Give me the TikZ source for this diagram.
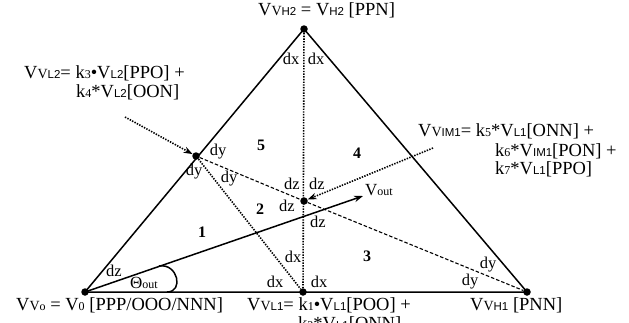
\documentclass[tikz,border=0pt]{standalone}
\usepackage{fontspec}
\setmainfont{Liberation Serif}
\setsansfont{Liberation Sans}
\usetikzlibrary{arrows.meta}
\newcommand\VV{V{\fontsize{14}{14}\selectfont V}}
\newcommand\sbs[1]{{\fontsize{11.5}{12}\selectfont\sffamily #1}}
\newcommand\sbn[1]{{\fontsize{12}{12}\selectfont #1}}
\begin{document}
\begin{tikzpicture}[x=1pt,y=-1pt,font=\fontsize{16.5}{18}\selectfont,
  solidline/.style={line width=1.5pt},
  dotline/.style={line width=1.6pt,dash pattern=on 1.4pt off 1.3pt},
  dashline/.style={line width=1.1pt,dash pattern=on 3.5pt off 2pt},
  vtx/.style={circle,fill,inner sep=0pt,minimum size=7.5pt},
  lbl/.style={inner sep=0pt},
  txt/.style={anchor=base west,inner sep=0pt,font=\fontsize{18.5}{20}\selectfont},
  num/.style={font=\fontsize{16}{17}\selectfont\bfseries,inner sep=0pt},
  tip/.style={-{Stealth[length=9pt,width=6.5pt]}}]
\useasboundingbox (0,0) rectangle (629,322);
\node[vtx] (A) at (85,292) {};
\node[vtx] (B) at (303,292) {};
\node[vtx] (C) at (527,292) {};
\node[vtx] (D) at (304,29) {};
\node[vtx] (E) at (196,156) {};
\node[vtx] (F) at (304,201) {};
\coordinate (G) at (363,196);
\coordinate (H) at (125,117);
\coordinate (I) at (433,148);
\coordinate (P) at (167,292);
\coordinate (Q) at (159,266);

\draw[solidline] (A.center) -- (C.center) -- (D.center) -- cycle;
\draw[dotline] (D) -- (B);
\draw[dotline] (E) -- (B);
\draw[dashline] (E) -- (F) -- (C);
\draw[dotline,tip] (H) -- (E);
\draw[dotline,tip] (I) -- (F);
\draw[solidline,tip] (A.center) -- (G);
\draw[solidline] (P) .. controls (184,292) and (178,263) .. (Q);

% main labels
\node[txt] (tH2) at (258,15) {\VV\sbs{H2} = V\sbs{H2} [PPN]};
\node[txt] (tL2a) at (24,78) {\VV\sbs{L2}= k\sbn{3}•V\sbs{L2}[PPO] +};
\node[txt] (tL2b) at (76,97) {k\sbn{4}*V\sbs{L2}[OON]};
\node[txt] (tIMa) at (418,136) {\VV\sbs{IM1}= k\sbn{5}*V\sbs{L1}[ONN] +};
\node[txt] (tIMb) at (495,156) {k\sbn{6}*V\sbs{IM1}[PON] +};
\node[txt] (tIMc) at (495,174) {k\sbn{7}*V\sbs{L1}[PPO]};
\node[txt] (tO) at (16,310) {\VV\sbn{o} = V\sbn{0} [PPP/OOO/NNN]};
\node[txt] (tL1a) at (247,310) {\VV\sbs{L1}= k\sbn{1}•V\sbs{L1}[POO] +};
\node[txt] (tL1b) at (298,329) {k\sbn{2}*V\sbs{L1}[ONN]};
\node[txt] (tH1) at (470,310) {\VV\sbs{H1} [PNN]};
\node[txt,font=\fontsize{17}{18}\selectfont] (tVout) at (365,195) {V\sbn{out}};
\node[txt,font=\fontsize{17}{18}\selectfont] (tTh) at (130,288) {Θ\sbn{out}};

% region numbers
\node[num] (n5) at (261,145) {5};
\node[num] (n4) at (357,153) {4};
\node[num] (n2) at (260,209) {2};
\node[num] (n1) at (202,232) {1};
\node[num] (n3) at (367,256) {3};

% increments
\node[lbl] (dx1) at (291,59) {dx};
\node[lbl] (dx2) at (316,59) {dx};
\node[lbl] (dy1) at (218,152) {dy};
\node[lbl] (dy2) at (194,172) {dy};
\node[lbl] (dy3) at (229,179) {dy};
\node[lbl] (dz1) at (292,184) {dz};
\node[lbl] (dz2) at (317,184) {dz};
\node[lbl] (dz3) at (287,206) {dz};
\node[lbl] (dz4) at (318,222) {dz};
\node[lbl] (dx3) at (293,257) {dx};
\node[lbl] (dx4) at (275,282) {dx};
\node[lbl] (dx5) at (319,282) {dx};
\node[lbl] (dz5) at (114,271) {dz};
\node[lbl] (dy4) at (488,265) {dy};
\node[lbl] (dy5) at (470,282) {dy};
\end{tikzpicture}
\end{document}
